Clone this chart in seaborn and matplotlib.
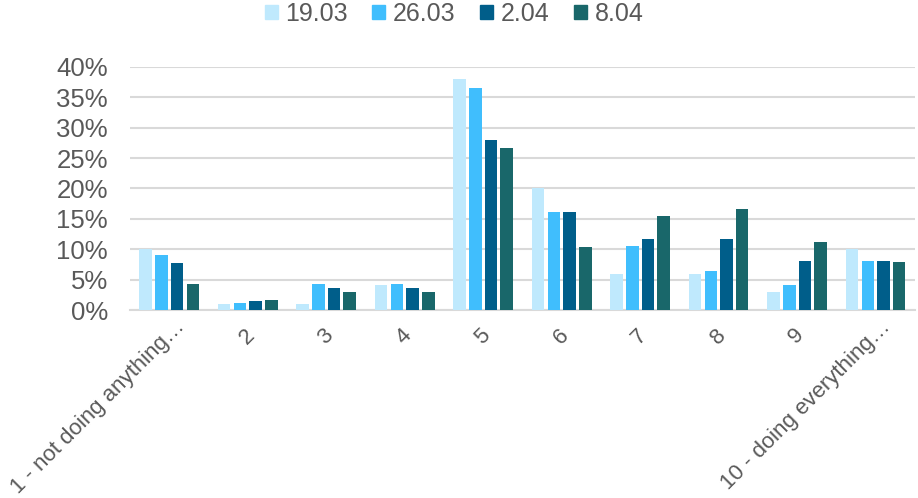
import matplotlib
matplotlib.use("Agg")
import matplotlib.pyplot as plt
import matplotlib.ticker as mticker
import matplotlib.transforms as mtransforms
import seaborn as sns
import pandas as pd

categories = ["1 - not doing anything\u2026", "2", "3", "4", "5", "6", "7", "8", "9",
              "10 - doing everything\u2026"]
dates = ["19.03", "26.03", "2.04", "8.04"]
v_1903 = [10.1, 1.0, 1.0, 4.1, 38.0, 20.0, 6.0, 6.0, 3.0, 10.0]
v_2603 = [9.0, 1.2, 4.2, 4.2, 36.5, 16.2, 10.5, 6.5, 4.1, 8.1]
v_0204 = [7.7, 1.4, 3.7, 3.7, 28.0, 16.2, 11.7, 11.7, 8.1, 8.1]
v_0804 = [4.3, 1.7, 3.0, 3.0, 26.7, 10.4, 15.4, 16.7, 11.2, 7.9]
colors = ["#BFE9FD", "#40BEFD", "#005E8A", "#19676A"]

series = {"19.03": v_1903, "26.03": v_2603, "2.04": v_0204, "8.04": v_0804}
rows = []
for d in dates:
    for c, v in zip(categories, series[d]):
        rows.append({"category": c, "date": d, "share": v / 100})
df = pd.DataFrame(rows)

sns.set_theme(style="white")
plt.rcParams["font.family"] = ["Liberation Sans", "DejaVu Sans"]

fig = plt.figure(figsize=(9.18, 4.98), dpi=100)
ax = fig.add_axes([0.1416, 0.3775, 0.855, 0.488])

sns.barplot(data=df, x="category", y="share", hue="date", hue_order=dates,
            palette=colors, width=0.8, gap=0.2, linewidth=0, saturation=1,
            errorbar=None, ax=ax, zorder=3)

ax.set_ylim(0, 0.4)
ax.set_xlim(-0.5, len(categories) - 0.5)
ax.yaxis.set_major_locator(mticker.MultipleLocator(0.05))
ax.yaxis.set_major_formatter(mticker.PercentFormatter(1.0, decimals=0))
ax.grid(axis="y", color="#D9D9D9", linewidth=1.5, zorder=0)
ax.set_axisbelow(True)
for s in ["top", "right", "left"]:
    ax.spines[s].set_visible(False)
ax.spines["bottom"].set_color("#D9D9D9")
ax.spines["bottom"].set_linewidth(1.5)
ax.set_xlabel("")
ax.set_ylabel("")
ax.tick_params(axis="y", labelsize=18.5, colors="#595959", length=0, pad=16)
ax.tick_params(axis="x", labelsize=16, colors="#595959", length=0, pad=10)

# rotated category labels: long ones end a little right of their tick,
# single digits sit just below theirs
for lbl in ax.get_xticklabels():
    lbl.set_rotation(45)
    lbl.set_ha("right")
    lbl.set_va("center")
    lbl.set_rotation_mode("anchor")
    if len(lbl.get_text()) > 2:
        dx, dy = 12, 0
    else:
        dx, dy = 4, -8
    shift = mtransforms.ScaledTranslation(dx / 100, dy / 100, fig.dpi_scale_trans)
    lbl.set_transform(lbl.get_transform() + shift)

ax.get_legend().remove()
handles = [plt.Rectangle((0, 0), 1, 1, color=c) for c in colors]
fig.legend(handles, dates, loc="center", bbox_to_anchor=(0.4946, 0.972),
           ncol=4, frameon=False, fontsize=18, handlelength=0.52, handleheight=0.52,
           handletextpad=0.32, columnspacing=0.96, borderpad=0, labelcolor="#595959")

fig.savefig("out.png", dpi=100)
